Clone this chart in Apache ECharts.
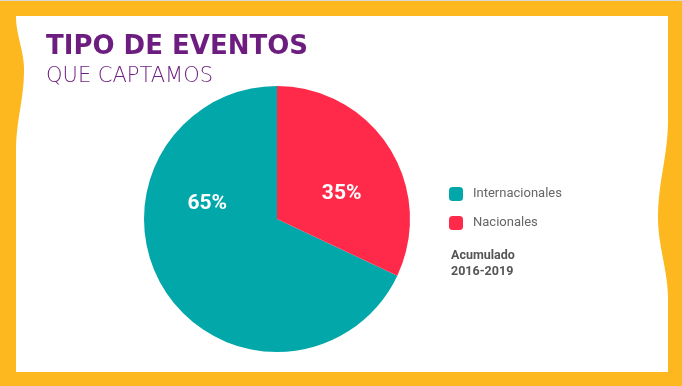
<!DOCTYPE html>
<html><head><meta charset="utf-8">
<script src="https://cdn.jsdelivr.net/npm/echarts@6/dist/echarts.min.js"></script>
<style>html,body{margin:0;padding:0;background:#fff}#c{width:682px;height:386px}</style>
</head><body><div id="c"></div>
<script>
const categories = ["Internacionales", "Nacionales"];
const values = [68, 32];
const labelTexts = ["65%", "35%"];
const colors = ["#02A7AA", "#FF2A4A"];
const titleText = "TIPO DE EVENTOS";
const subtitleText = "QUE CAPTAMOS";
const noteText = "Acumulado\n2016-2019";

// decorative frame bulges
function bulge(y0, yPeak, y1, amp) {
  const pts = [];
  for (let y = y0; y <= y1; y += 2) {
    let t = y < yPeak ? (y - y0) / (yPeak - y0) : (y1 - y) / (y1 - yPeak);
    pts.push([y, amp * (1 - Math.cos(Math.PI * t)) / 2]);
  }
  return pts;
}
const leftPts = [[0, 16]].concat(bulge(16, 70, 150, 8).map(p => [16 + p[1], p[0]])).concat([[0, 150]]);
const rightPts = [[682, 120]].concat(bulge(120, 217, 300, 10).map(p => [668 - p[1], p[0]])).concat([[682, 300]]);

const chart = echarts.init(document.getElementById('c'));
const labelOffsets = [[-11, -52], [6, 12]];
chart.setOption({
  backgroundColor: '#FDB71F',
  animation: false,
  graphic: [
    {type: 'rect', shape: {x: 0, y: 0, width: 682, height: 1}, style: {fill: '#d9d9d9'}, z: 1},
    {type: 'rect', shape: {x: 16, y: 16, width: 652, height: 356}, style: {fill: '#ffffff'}, z: 1},
    {type: 'polygon', shape: {points: leftPts}, style: {fill: '#FDB71F'}, z: 2},
    {type: 'polygon', shape: {points: rightPts}, style: {fill: '#FDB71F'}, z: 2}
  ],
  title: [
    {text: titleText, subtext: subtitleText, left: 46, top: 34, itemGap: 6, padding: 0,
     textStyle: {fontFamily: 'DejaVu Sans', fontWeight: 'bold', fontSize: 26, color: '#6C1D7F'},
     subtextStyle: {fontFamily: 'DejaVu Sans', fontWeight: 200, fontSize: 21, color: '#6C1D7F'}},
    {text: noteText, left: 451, top: 248, padding: 0,
     textStyle: {fontFamily: 'Roboto', fontWeight: 'bold', fontSize: 12.5, lineHeight: 16, color: '#555555'}}
  ],
  legend: {
    orient: 'vertical', left: 449, top: 187, itemWidth: 14, itemHeight: 14, itemGap: 15, padding: 0,
    icon: 'roundRect', data: categories,
    textStyle: {fontFamily: 'Roboto', fontSize: 13, color: '#666666', padding: [0, 0, 0, 5]}
  },
  series: [{
    type: 'pie', center: [277, 219], radius: 133, startAngle: 90, clockwise: false,
    silent: true,
    data: categories.map((c, i) => ({
      name: c, value: values[i], itemStyle: {color: colors[i]},
      label: {offset: labelOffsets[i]}
    })),
    label: {show: true, position: 'inside', fontFamily: 'Roboto', fontWeight: 'bold', fontSize: 21, color: '#fff',
      formatter: p => labelTexts[p.dataIndex]},
    labelLine: {show: false}
  }]
});
</script></body></html>
